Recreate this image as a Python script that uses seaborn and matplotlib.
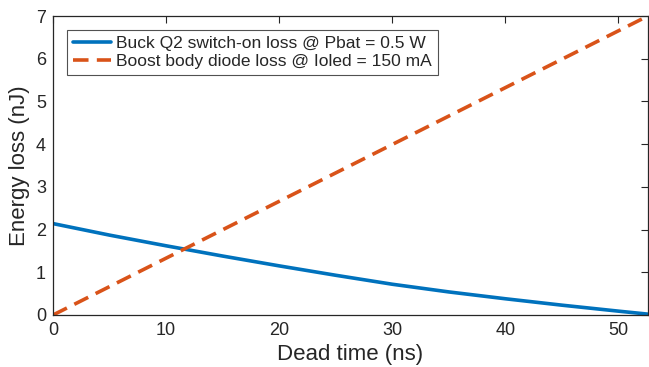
import pandas as pd
import matplotlib
matplotlib.use("Agg")
import matplotlib.pyplot as plt
import seaborn as sns

# Dados
dead_time_buck = [0, 5, 10, 15, 20, 25, 30, 35, 40, 45, 50, 52.6]
loss_buck = [2.14, 1.87, 1.62, 1.38, 1.15, 0.93, 0.72, 0.54, 0.38, 0.23, 0.09, 0.02]
dead_time_boost = [0, 52.6]
loss_boost = [0.0, 7.0]

label_buck = "Buck Q2 switch-on loss @ Pbat = 0.5 W"
label_boost = "Boost body diode loss @ Ioled = 150 mA"

sns.set_theme(style="white")
plt.rcParams['font.family'] = ['Liberation Sans', 'DejaVu Sans']

df = pd.concat([
    pd.DataFrame({"t": dead_time_buck, "E": loss_buck, "curve": label_buck}),
    pd.DataFrame({"t": dead_time_boost, "E": loss_boost, "curve": label_boost}),
])

fig = plt.figure(figsize=(6.49, 3.67), dpi=100)
ax = fig.add_axes([0.0817, 0.1417, 0.9166, 0.8147])

sns.lineplot(
    data=df, x="t", y="E", hue="curve", style="curve",
    palette={label_buck: "#0072BD", label_boost: "#D95319"},
    dashes={label_buck: "", label_boost: (4.3, 2.3)},
    linewidth=2.6, ax=ax,
)

ax.set_xlim(0, 52.6)
ax.set_ylim(0, 7)
ax.set_xticks([0, 10, 20, 30, 40, 50])
ax.set_yticks(range(0, 8))
ax.set_xlabel("Dead time (ns)", fontsize=16, color="#262626", labelpad=4)
ax.set_ylabel("Energy loss (nJ)", fontsize=16, color="#262626", labelpad=4)

ax.tick_params(direction="in", length=5, width=0.8, colors="#262626",
               labelsize=13, top=True, right=True, pad=5)
for s in ax.spines.values():
    s.set_color("#262626")
    s.set_linewidth(0.9)

leg = ax.legend(loc="upper left", bbox_to_anchor=(0.0235, 0.953), fontsize=12.5,
                frameon=True, fancybox=False, edgecolor="#262626",
                handlelength=2.2, handletextpad=0.3, borderpad=0.35,
                labelspacing=0.15, borderaxespad=0)
leg.get_frame().set_linewidth(0.8)

fig.savefig("out.png", dpi=100)
